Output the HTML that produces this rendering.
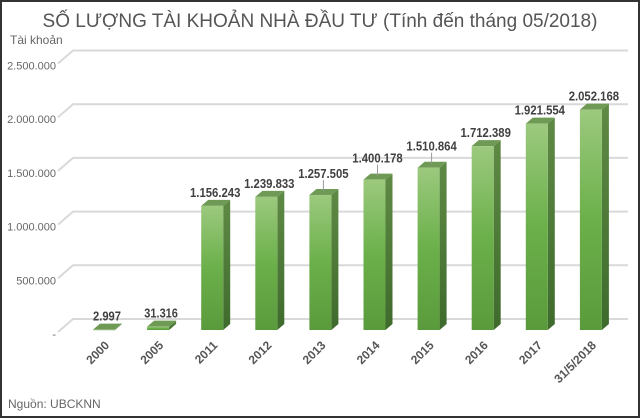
<!DOCTYPE html>
<html><head><meta charset="utf-8"><style>
body{margin:0;background:#fff}
svg{display:block}
text{font-family:"Liberation Sans",sans-serif}
</style></head><body>
<svg id="c" width="640" height="418" viewBox="0 0 640 418">
<defs>
<linearGradient id="gf" x1="0" y1="0" x2="0" y2="1"><stop offset="0" stop-color="#9cc97e"/><stop offset="0.5" stop-color="#6bb04a"/><stop offset="1" stop-color="#5a9a3c"/></linearGradient>
<linearGradient id="gs" x1="0" y1="0" x2="0" y2="1"><stop offset="0" stop-color="#5f8a45"/><stop offset="1" stop-color="#3e6a2c"/></linearGradient>
</defs>
<rect x="1" y="1" width="638" height="416" fill="#fff" stroke="#333" stroke-width="2"/>
<text x="320" y="27" text-anchor="middle" font-size="19" fill="#555">SỐ LƯỢNG TÀI KHOẢN NHÀ ĐẦU TƯ (Tính đến tháng 05/2018)</text>
<text x="10" y="44" font-size="12" fill="#666">Tài khoản</text>
<text x="8" y="408" font-size="12" fill="#666">Nguồn: UBCKNN</text>
<g id="grid"></g><g id="bars"></g><g id="xl"></g>
</svg>
<script>
const categories=["2000","2005","2011","2012","2013","2014","2015","2016","2017","31/5/2018"];
const values=[2997,31316,1156243,1239833,1257505,1400178,1510864,1712389,1921554,2052168];
const labels=["2.997","31.316","1.156.243","1.239.833","1.257.505","1.400.178","1.510.864","1.712.389","1.921.554","2.052.168"];
const yTicks=[0,500000,1000000,1500000,2000000,2500000];
const yTickLabels=["-","500.000","1.000.000","1.500.000","2.000.000","2.500.000"];
const leaderBars=["2013","2014","2015"];
const NS="http://www.w3.org/2000/svg";
const base=330, k=107.4/1e6, dy=11;
const y=v=>base-v*k;
const xL=i=>93+i*54.1;
function mk(t,a,p){const e=document.createElementNS(NS,t);for(const q in a)e.setAttribute(q,a[q]);p.appendChild(e);return e;}
const g=document.getElementById('grid'),b=document.getElementById('bars'),xl=document.getElementById('xl');
yTicks.forEach((t,i)=>{
 const yy=y(t);
 const l=mk('polyline',{points:`${58},${yy+2} ${73},${yy-dy} ${628},${yy-dy}`,fill:'none',stroke:'#d9d9d9','stroke-width':2},g);
 
 
 const tx=mk('text',{x:56,y:yy+8,'text-anchor':'end','font-size':11,fill:'#666'},g);
 tx.textContent=yTickLabels[i];
 
 
});
values.forEach((v,i)=>{
 const x=xL(i),w=22,top=y(v),sx=7,sy=6;
 const grp=mk('g',{},b);
 
 
 mk('polygon',{points:`${x+w},${top} ${x+w+sx},${top-sy} ${x+w+sx},${base-sy} ${x+w},${base}`,fill:'url(#gs)'},grp);
 mk('polygon',{points:`${x},${top} ${x+sx},${top-sy} ${x+w+sx},${top-sy} ${x+w},${top}`,fill:'#6f9a55'},grp);
 mk('rect',{x:x,y:top,width:w,height:Math.max(base-top,0.5),fill:'url(#gf)'},grp);
 const lead=leaderBars.includes(categories[i]);
 const ly=lead?top-17:top-9;
 if(lead){
  const ln=mk('line',{x1:x+w/2+3,y1:top-4,x2:x+w/2+3,y2:ly+2,stroke:'#999','stroke-width':1},b);
  
  
 }
 const lab=labels[i];
 const t=mk('text',{x:x+w/2+3,y:ly,'text-anchor':'middle','font-size':13,'font-weight':'bold',fill:'#404040',textLength:lab.length*5.6,lengthAdjust:'spacingAndGlyphs'},b);
 t.textContent=lab;
 
 
 const c=mk('text',{transform:`translate(${x+w/2+6},${346}) rotate(-45)`,'text-anchor':'end','font-size':12,'font-weight':'bold',fill:'#555'},xl);
 c.textContent=categories[i];
 
 
});
</script>
</body></html>
